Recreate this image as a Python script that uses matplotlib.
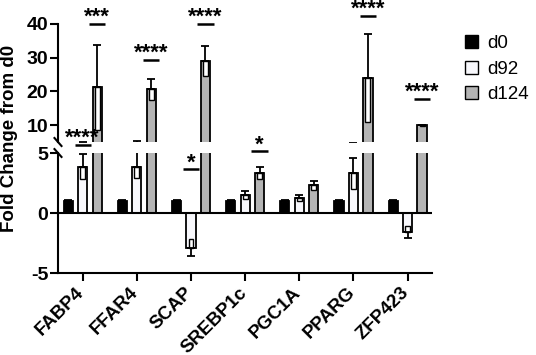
import matplotlib
matplotlib.use("Agg")
import matplotlib.pyplot as plt
import matplotlib.transforms as mtrans
import numpy as np
from matplotlib.patches import Patch

plt.rcParams['font.family'] = ['Liberation Sans', 'DejaVu Sans']

categories = ['FABP4', 'FFAR4', 'SCAP', 'SREBP1c', 'PGC1A', 'PPARG', 'ZFP423']
series_names = ['d0', 'd92', 'd124']
d0 = [1.0, 1.0, 1.0, 1.0, 1.0, 1.0, 1.0]
d0_err = [0.08, 0.08, 0.08, 0.08, 0.08, 0.08, 0.08]
d92 = [3.8, 3.8, -2.9, 1.5, 1.26, 3.3, -1.55]
d92_err_lo = [1.0, 0.9, 0.7, 0.3, 0.25, 1.3, 0.5]
d92_err_hi = [1.1, 1.6, 0.7, 0.3, 0.25, 1.3, 0.5]
d124 = [21.2, 20.6, 29.0, 3.3, 2.3, 23.9, 9.9]
d124_err = [12.5, 3.2, 4.5, 0.5, 0.4, 13.0, 0.2]

# significance marks: (category index, series index, label, y value, axis)
sig_cat = [0, 0, 1, 2, 2, 3, 5, 6]
sig_series = [1, 2, 2, 1, 2, 2, 2, 2]
sig_label = ['****', '***', '****', '*', '****', '*', '****', '****']
sig_y = [5.67, 40, 29.3, 3.64, 40, 5.13, 42.5, 17.7]
sig_axis = ['lo', 'hi', 'hi', 'lo', 'hi', 'lo', 'hi', 'hi']

lower_ticks = [-5, 0, 5]
upper_ticks = [10, 20, 30, 40]

colors = ['#000000', '#f8f8fc', '#b4b4b4']

W, H = 536, 355
fig = plt.figure(figsize=(W / 100, H / 100), dpi=100)
left, right = 58 / W, 432 / W
ax_hi = fig.add_axes([left, 1 - 142 / H, right - left, (142 - 24) / H])
ax_lo = fig.add_axes([left, 1 - 273 / H, right - left, (273 - 153) / H])

x = np.arange(len(categories))
off = 0.267
bw = 0.17
ibw = 0.09
vals = [d0, d92, d124]
errs = [[d0_err, d0_err], [d92_err_lo, d92_err_hi], [d124_err, d124_err]]

for ax in (ax_hi, ax_lo):
    for i, (v, e) in enumerate(zip(vals, errs)):
        xs = x + (i - 1) * off
        v = np.asarray(v)
        lo = np.asarray(e[0])
        hi = np.asarray(e[1])
        pos = v >= 0
        ax.bar(xs, v, width=bw, color=colors[i], edgecolor='black', linewidth=1.3,
               zorder=2)
        # inner part of the error bar (towards zero), drawn as a thin box
        inner = np.where(pos, -lo, hi)
        ax.bar(xs, inner, bottom=v, width=ibw, color='white', edgecolor='black',
               linewidth=1.0, zorder=3)
        # outer part of the error bar with cap
        yerr_lo = np.where(pos, 0, lo)
        yerr_hi = np.where(pos, hi, 0)
        ax.errorbar(xs, v, yerr=[yerr_lo, yerr_hi], fmt='none', ecolor='black',
                    elinewidth=1.3, capsize=3.2, capthick=1.3, zorder=4)
    ax.set_xlim(-0.455, len(categories) - 1 + 0.45)
    for s in ('top', 'right'):
        ax.spines[s].set_visible(False)
    for s in ('left', 'bottom'):
        ax.spines[s].set_linewidth(1.5)
    ax.tick_params(axis='y', width=1.5, length=6, pad=1, labelsize=14)

ax_hi.set_ylim(5, 40)
ax_hi.set_yticks(upper_ticks)
ax_hi.set_yticklabels([str(t) for t in upper_ticks], fontweight='bold', fontsize=14)
ax_hi.spines['bottom'].set_visible(False)
ax_hi.set_xticks([])

ax_lo.set_ylim(-5, 5)
ax_lo.set_yticks(lower_ticks)
ax_lo.set_yticklabels([str(t) for t in lower_ticks], fontweight='bold', fontsize=14)
ax_lo.axhline(0, color='black', linewidth=1.5, zorder=5)
ax_lo.set_xticks(x)
ax_lo.set_xticklabels(categories, rotation=45, ha='right', va='top',
                      fontweight='bold', fontsize=13.5)
ax_lo.tick_params(axis='x', width=1.5, length=6, pad=2)
shift = mtrans.ScaledTranslation(5 / 100, 0, fig.dpi_scale_trans)
for lab in ax_lo.get_xticklabels():
    lab.set_transform(lab.get_transform() + shift)

# break marks
dx, dy = 0.0094, 0.034
ax_hi.plot([-dx, dx], [dy, -dy], transform=ax_hi.transAxes, color='black',
           lw=1.5, clip_on=False)
dy2 = 0.033
ax_lo.plot([-dx, dx], [1 + dy2, 1 - dy2], transform=ax_lo.transAxes, color='black',
           lw=1.5, clip_on=False)

# significance
for c, s, lab, yv, a in zip(sig_cat, sig_series, sig_label, sig_y, sig_axis):
    ax = ax_hi if a == 'hi' else ax_lo
    xc = c + (s - 1) * off
    ax.plot([xc - 0.15, xc + 0.15], [yv, yv], color='black', lw=1.8,
            clip_on=False, solid_capstyle='butt')
    ax.annotate(lab, (xc, yv), xytext=(0, 1), textcoords='offset pixels',
                ha='center', va='baseline', fontsize=16, fontweight='bold',
                annotation_clip=False)

fig.text(10 / W, 1 - 138 / H, 'Fold Change from d0', rotation=90, ha='center',
         va='center', fontsize=13.5, fontweight='bold')

handles = [Patch(facecolor=colors[i], edgecolor='black', linewidth=1.0,
                 label=series_names[i]) for i in range(3)]
fig.legend(handles=handles, loc='upper left', bbox_to_anchor=(465 / W, 1 - 35 / H),
           frameon=False, fontsize=13.5, handlelength=0.7, handleheight=0.7,
           handletextpad=0.5, labelspacing=0.45, borderaxespad=0, borderpad=0)

fig.savefig('out.png', dpi=100)
